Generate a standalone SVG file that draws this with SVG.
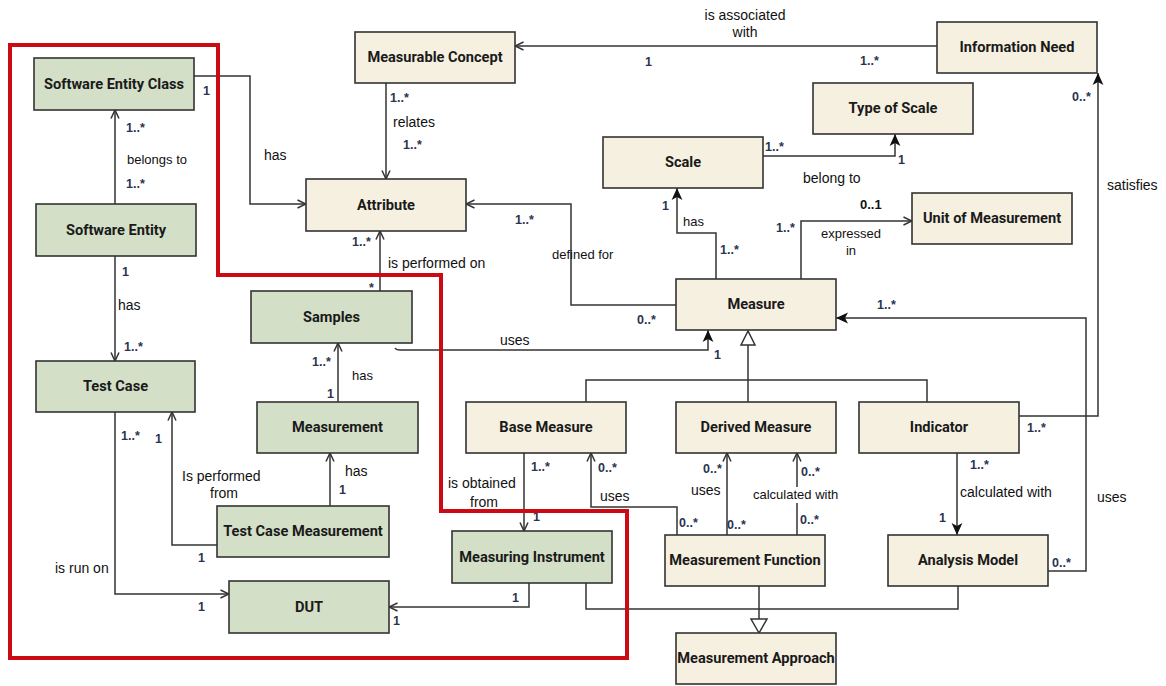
<svg xmlns="http://www.w3.org/2000/svg" width="1166" height="686" viewBox="0 0 1166 686">
  <style>
    .node rect { stroke: #333; stroke-width: 1.6; }
    .green rect { fill: #d4dfc7; }
    .cream rect { fill: #f6f0e1; }
    .node text { font-family: Roboto, "Liberation Sans", sans-serif; font-weight: bold; font-size: 14.6px; fill: #1a1a1a; text-anchor: middle; }
    .conn path { fill: none; stroke: #333; stroke-width: 1.5; }
    .lbl { font-family: "Liberation Sans", Arial, sans-serif; font-size: 14px; fill: #111; }
    .sm { font-size: 13px; }
    .mul { font-family: "Liberation Sans", Arial, sans-serif; font-size: 12.5px; font-weight: bold; fill: #2b3350; }
    .open { marker-end: url(#openArrow); }
    .solid { marker-end: url(#solidArrow); }
  </style>
  <defs>
    <marker id="openArrow" viewBox="0 0 10 10" refX="9.5" refY="5" markerWidth="10" markerHeight="10" markerUnits="userSpaceOnUse" orient="auto">
      <path d="M1,1 L9.5,5 L1,9" fill="none" stroke="#333" stroke-width="1.5"/>
    </marker>
    <marker id="solidArrow" viewBox="0 0 10 10" refX="10" refY="5" markerWidth="12" markerHeight="12" markerUnits="userSpaceOnUse" orient="auto">
      <path d="M0,0.5 L10,5 L0,9.5 L2.5,5 Z" fill="#111"/>
    </marker>
  </defs>
  <rect width="1166" height="686" fill="#fff"/>

  <!-- connectors -->
  <g id="connectors" class="conn">
    <path class="open" d="M194,76 H250 V204 H306"/>
    <path class="open" d="M115,204 V110"/>
    <path class="open" d="M115,256 V361"/>
    <path class="open" d="M115,412 V594 H229"/>
    <path class="open" d="M217,545 H172 V412"/>
    <path class="open" d="M330,506 V453"/>
    <path class="open" d="M338,402 V343"/>
    <path class="open" d="M380,291 V231"/>
    <path class="solid" d="M395,348 Q396,350 400,350 H708 V330"/>
    <path class="open" d="M676,305 H571 V204 H466"/>
    <path class="solid" d="M716,279 V233 H677 V188"/>
    <path class="open" d="M801,279 V221 H912"/>
    <path class="solid" d="M763,156 H895 V134"/>
    <path class="open" d="M937,46 H515"/>
    <path class="open" d="M386,83 V179"/>
    <path class="solid" d="M1019,416 H1098 V73"/>
    <path class="solid" d="M1048,571 H1086 V318 H836"/>
    <!-- generalisation to Measure -->
    <path d="M748,402 V345"/>
    <path d="M586,402 V380 H927 V402"/>
    <polygon points="748,331 741,345 755,345" fill="#fff" stroke="#333" stroke-width="1.5"/>
    <path class="open" d="M524,453 V531"/>
    <path class="open" d="M529,583 V607 H389"/>
    <path class="open" d="M677,535 V507 H591 V453"/>
    <path class="open" d="M727,535 V453"/>
    <path d="M797,535 V503"/>
    <path class="open" d="M797,487 V453"/>
    <path class="solid" d="M957,453 V535"/>
    <!-- generalisation to Measurement Approach -->
    <path d="M586,583 V609 H958 V586"/>
    <path d="M759,586 V619"/>
    <polygon points="759,633 751,619 767,619" fill="#fff" stroke="#333" stroke-width="1.5"/>
  </g>

  <!-- nodes -->
  <g id="software-entity-class" class="node green"><rect x="34" y="58" width="160" height="52"/><text x="114" y="89">Software Entity Class</text></g>
  <g id="software-entity" class="node green"><rect x="36" y="204" width="160" height="52"/><text x="116" y="235">Software Entity</text></g>
  <g id="test-case" class="node green"><rect x="36" y="361" width="159" height="51"/><text x="115.5" y="391">Test Case</text></g>
  <g id="samples" class="node green"><rect x="251" y="291" width="161" height="52"/><text x="331.5" y="322">Samples</text></g>
  <g id="measurement" class="node green"><rect x="257" y="402" width="161" height="51"/><text x="337.5" y="432">Measurement</text></g>
  <g id="test-case-measurement" class="node green"><rect x="217" y="506" width="172" height="51"/><text x="303" y="536">Test Case Measurement</text></g>
  <g id="dut" class="node green"><rect x="229" y="581" width="160" height="52"/><text x="309" y="612">DUT</text></g>
  <g id="measuring-instrument" class="node green"><rect x="452" y="531" width="160" height="52"/><text x="532" y="562">Measuring Instrument</text></g>
  <g id="attribute" class="node cream"><rect x="306" y="179" width="160" height="52"/><text x="386" y="210">Attribute</text></g>
  <g id="measurable-concept" class="node cream"><rect x="355" y="32" width="160" height="51"/><text x="435" y="62">Measurable Concept</text></g>
  <g id="scale" class="node cream"><rect x="603" y="137" width="160" height="51"/><text x="683" y="167">Scale</text></g>
  <g id="type-of-scale" class="node cream"><rect x="813" y="83" width="160" height="51"/><text x="893" y="113">Type of Scale</text></g>
  <g id="information-need" class="node cream"><rect x="937" y="22" width="160" height="51"/><text x="1017" y="52">Information Need</text></g>
  <g id="unit-of-measurement" class="node cream"><rect x="912" y="193" width="160" height="51"/><text x="992" y="223">Unit of Measurement</text></g>
  <g id="measure" class="node cream"><rect x="676" y="279" width="160" height="51"/><text x="756" y="309">Measure</text></g>
  <g id="base-measure" class="node cream"><rect x="466" y="402" width="160" height="51"/><text x="546" y="432">Base Measure</text></g>
  <g id="derived-measure" class="node cream"><rect x="676" y="402" width="160" height="51"/><text x="756" y="432">Derived Measure</text></g>
  <g id="indicator" class="node cream"><rect x="859" y="402" width="160" height="51"/><text x="939" y="432">Indicator</text></g>
  <g id="measurement-function" class="node cream"><rect x="665" y="535" width="160" height="51"/><text x="745" y="565">Measurement Function</text></g>
  <g id="analysis-model" class="node cream"><rect x="888" y="535" width="160" height="51"/><text x="968" y="565">Analysis Model</text></g>
  <g id="measurement-approach" class="node cream"><rect x="676" y="633" width="160" height="51"/><text x="756" y="663">Measurement Approach</text></g>

  <!-- association names -->
  <g id="labels" class="lbl">
    <text x="264" y="160">has</text>
    <text x="127" y="164" class="sm">belongs to</text>
    <text x="118" y="310">has</text>
    <text x="55" y="573">is run on</text>
    <text x="182" y="481">Is performed</text>
    <text x="210" y="498">from</text>
    <text x="345" y="476">has</text>
    <text x="352" y="380" class="sm">has</text>
    <text x="388" y="268">is performed on</text>
    <text x="500" y="345">uses</text>
    <text x="393" y="127">relates</text>
    <text x="745" y="20" text-anchor="middle">is associated</text>
    <text x="745" y="37" text-anchor="middle">with</text>
    <text x="552" y="259" class="sm">defined for</text>
    <text x="683" y="226" class="sm">has</text>
    <text x="851" y="238" class="sm" text-anchor="middle">expressed</text>
    <text x="851" y="255" class="sm" text-anchor="middle">in</text>
    <text x="803" y="183">belong to</text>
    <text x="1107" y="190">satisfies</text>
    <text x="1097" y="502">uses</text>
    <text x="448" y="488">is obtained</text>
    <text x="470" y="507">from</text>
    <text x="600" y="501">uses</text>
    <text x="691" y="495">uses</text>
    <text x="753" y="499" class="sm">calculated with</text>
    <text x="960" y="497">calculated with</text>
  </g>

  <!-- multiplicities -->
  <g id="multiplicities" class="mul">
    <text x="203" y="95">1</text>
    <text x="126" y="132">1..*</text>
    <text x="126" y="188">1..*</text>
    <text x="122" y="276">1</text>
    <text x="124" y="351">1..*</text>
    <text x="121" y="440">1..*</text>
    <text x="155" y="443">1</text>
    <text x="198" y="611">1</text>
    <text x="198" y="562">1</text>
    <text x="339" y="494">1</text>
    <text x="327" y="398">1</text>
    <text x="312" y="366">1..*</text>
    <text x="369" y="292">*</text>
    <text x="352" y="246">1..*</text>
    <text x="390" y="102">1..*</text>
    <text x="403" y="149">1..*</text>
    <text x="645" y="66">1</text>
    <text x="860" y="65">1..*</text>
    <text x="515" y="224">1..*</text>
    <text x="637" y="324">0..*</text>
    <text x="662" y="210">1</text>
    <text x="720" y="254">1..*</text>
    <text x="776" y="232">1..*</text>
    <text x="860" y="209" style="font-size:13px;fill:#111">0..1</text>
    <text x="765" y="151">1..*</text>
    <text x="898" y="164">1</text>
    <text x="1072" y="101">0..*</text>
    <text x="1027" y="432">1..*</text>
    <text x="877" y="309">1..*</text>
    <text x="1052" y="567">0..*</text>
    <text x="714" y="359">1</text>
    <text x="531" y="471">1..*</text>
    <text x="533" y="521">1</text>
    <text x="598" y="472">0..*</text>
    <text x="679" y="527">0..*</text>
    <text x="703" y="473">0..*</text>
    <text x="727" y="529">0..*</text>
    <text x="801" y="476">0..*</text>
    <text x="800" y="524">0..*</text>
    <text x="970" y="469">1..*</text>
    <text x="939" y="522">1</text>
    <text x="512" y="602">1</text>
    <text x="393" y="625">1</text>
  </g>

  <!-- highlighted region -->
  <path id="highlight-frame" d="M10,45 H218 V275 H441 V511 H627 V658 H10 Z" fill="none" stroke="#cc0a14" stroke-width="4"/>
</svg>
